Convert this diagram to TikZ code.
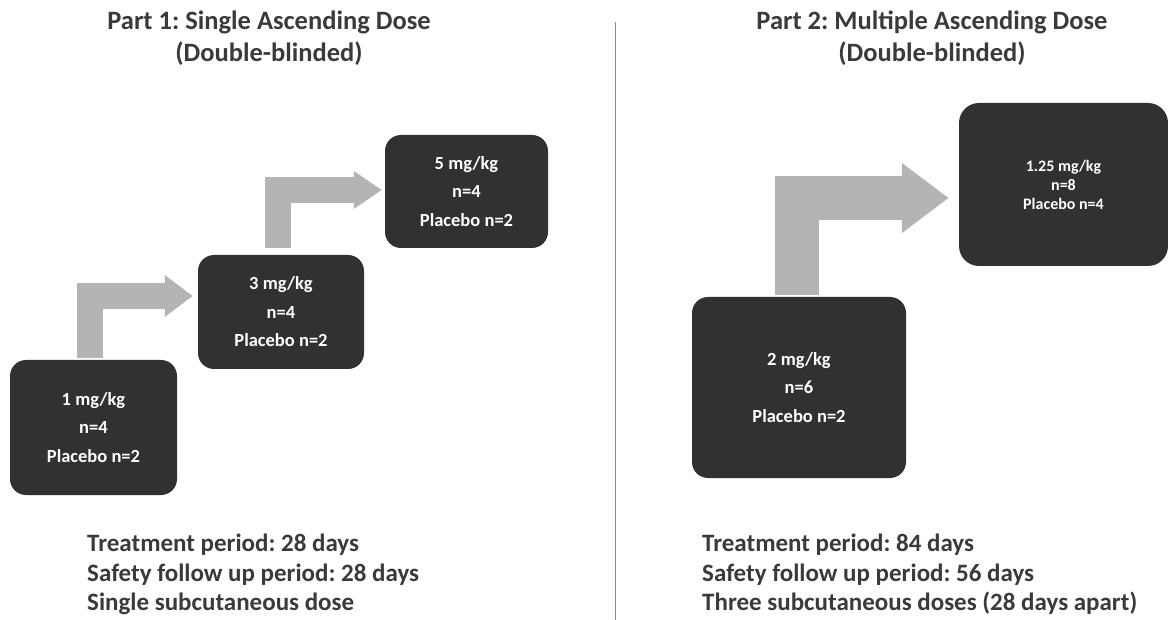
\documentclass[tikz,border=0pt]{standalone}
\usepackage{fontspec}
\setmainfont{Carlito}
\usetikzlibrary{arrows.meta}
\definecolor{boxgray}{HTML}{313131}
\definecolor{arrowgray}{HTML}{B4B4B4}
\definecolor{textgray}{HTML}{3A3A3A}
\definecolor{rulegray}{HTML}{8A8A8A}
\frenchspacing

\begin{document}
\begin{tikzpicture}[x=1pt, y=-1pt,
    dosebox/.style={fill=boxgray, rounded corners=16pt, text=white, align=center,
        inner sep=0pt, font=\fontsize{18.5}{28.5}\selectfont\bfseries},
    steparrow/.style n args={3}{draw=arrowgray, line width=#1, line join=miter,
        -{Triangle[width=#2, length=#3]}},
    heading/.style={text=textgray, align=center, anchor=north, inner sep=0pt,
        font=\fontsize{26.5}{32}\selectfont\bfseries},
    notes/.style={text=textgray, align=left, anchor=north west, inner sep=0pt,
        font=\fontsize{25}{29.5}\selectfont\bfseries}]
    \useasboundingbox (0,0) rectangle (1168,620);

    \node[heading] (sadtitle) at (269,11) {Part 1: Single Ascending Dose\\(Double-blinded)};
    \node[heading] (madtitle) at (932,11) {Part 2: Multiple Ascending Dose\\(Double-blinded)};
    \draw[rulegray, line width=1.5pt] (615.5,22) -- (615.5,620);

    \node[dosebox, minimum width=167pt, minimum height=135pt] (sad1) at (93.5,427.5)
        {1 mg/kg\\n=4\\Placebo n=2};
    \node[dosebox, minimum width=166pt, minimum height=114pt] (sad2) at (281,312)
        {3 mg/kg\\n=4\\Placebo n=2};
    \node[dosebox, minimum width=163pt, minimum height=113pt] (sad3) at (466.5,191.5)
        {5 mg/kg\\n=4\\Placebo n=2};
    \node[dosebox, minimum width=214pt, minimum height=181pt] (mad1) at (799,387.5)
        {2 mg/kg\\n=6\\Placebo n=2};
    \node[dosebox, minimum width=209pt, minimum height=163pt, rounded corners=20pt,
        font=\fontsize{16}{19}\selectfont\bfseries] (mad2) at (1063.5,184.5)
        {1.25 mg/kg\\n=8\\Placebo n=4};

    \draw[steparrow={26pt}{40pt}{28pt}] ([xshift=-3.5pt, yshift=2pt]sad1.north)
        |- ([xshift=-5pt, yshift=16pt]sad2.west);
    \draw[steparrow={26pt}{36pt}{28pt}] ([xshift=-3pt, yshift=7pt]sad2.north)
        |- ([xshift=-3pt, yshift=1.5pt]sad3.west);
    \draw[steparrow={44pt}{67pt}{47pt}] ([xshift=-2pt, yshift=2pt]mad1.north)
        |- ([xshift=-10pt, yshift=-13.5pt]mad2.west);

    \node[notes] (sadnotes) at (87,534) {Treatment period: 28 days\\Safety follow up period: 28 days\\Single subcutaneous dose};
    \node[notes] (madnotes) at (702,534) {Treatment period: 84 days\\Safety follow up period: 56 days\\Three subcutaneous doses (28 days apart)};
\end{tikzpicture}
\end{document}
